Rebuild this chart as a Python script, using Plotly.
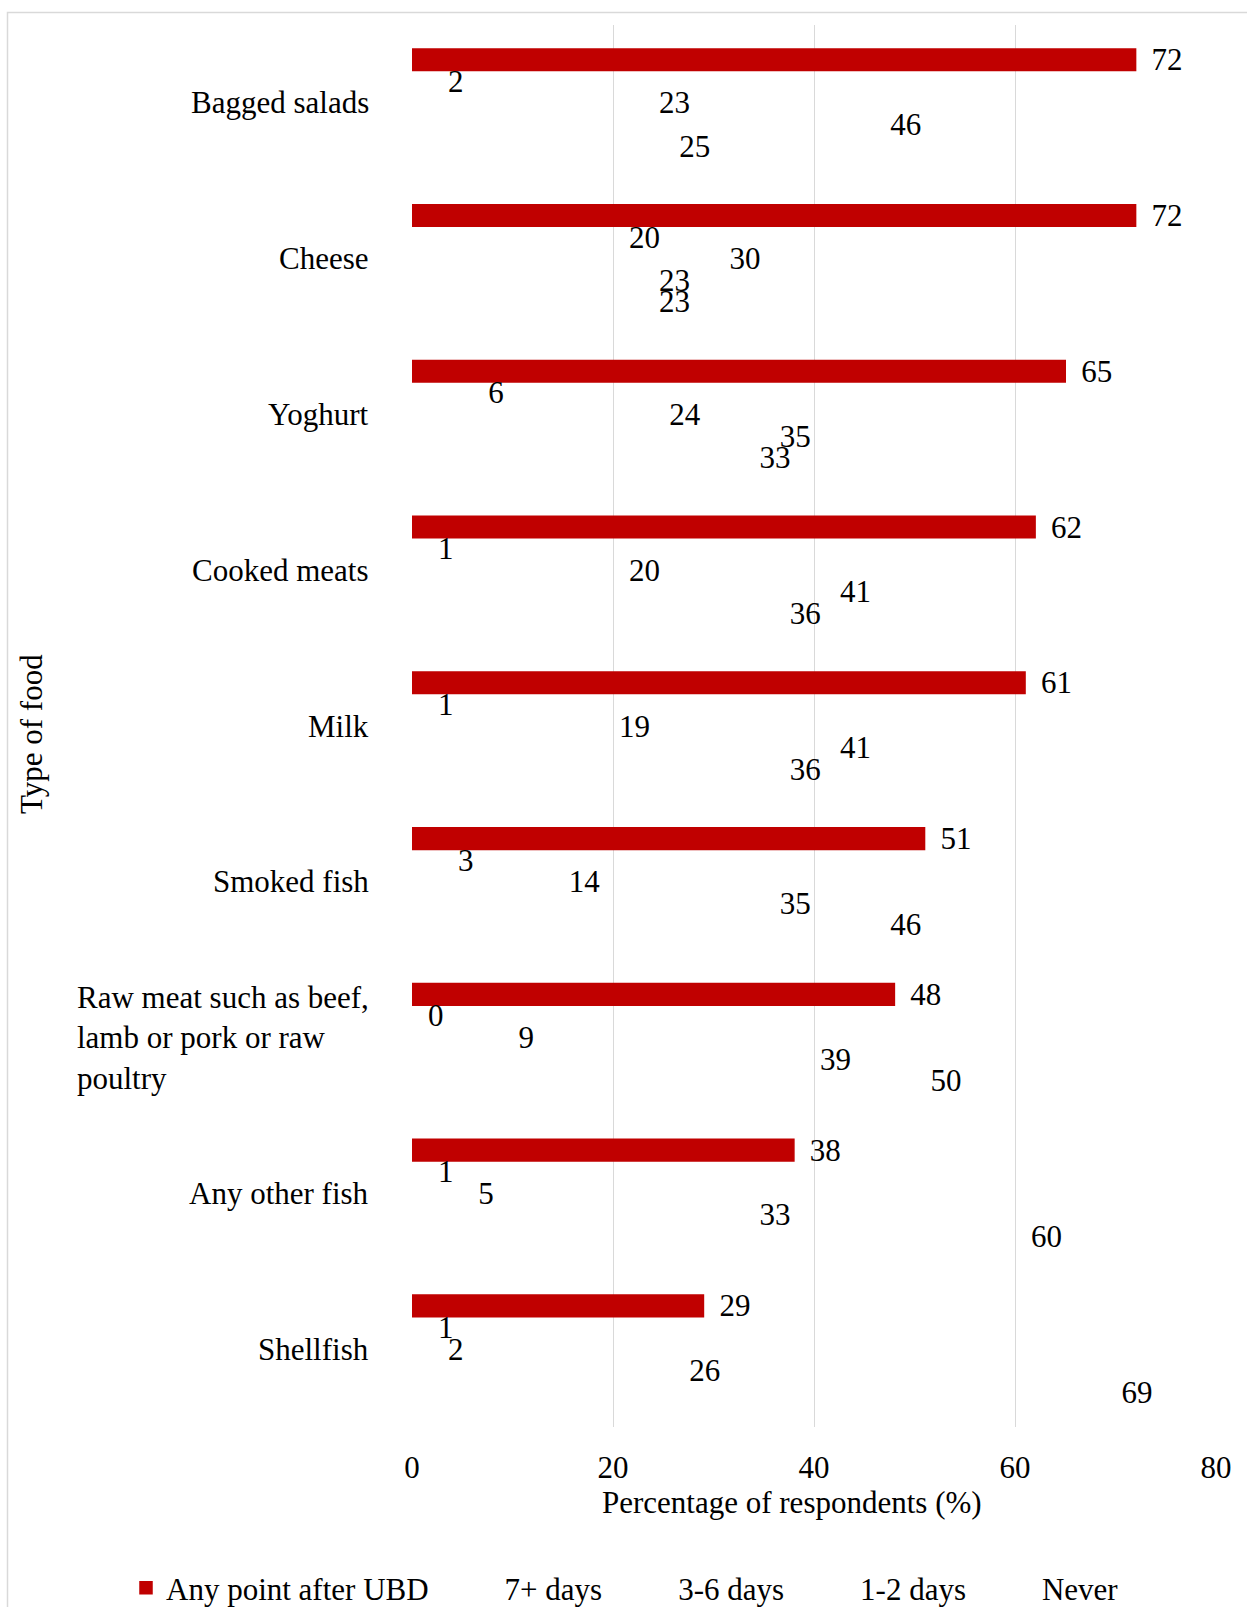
import plotly.graph_objects as go

# ---- data ----
category_labels = [
    "Bagged salads",
    "Cheese",
    "Yoghurt",
    "Cooked meats",
    "Milk",
    "Smoked fish",
    "Raw meat such as beef,<br>lamb or pork or raw<br>poultry",
    "Any other fish",
    "Shellfish",
]
any_point_after_ubd = [72, 72, 65, 62, 61, 51, 48, 38, 29]
days_7_plus = [2, 20, 6, 1, 1, 3, 0, 1, 1]
days_3_6 = [23, 30, 24, 20, 19, 14, 9, 5, 2]
days_1_2 = [46, 23, 35, 41, 41, 35, 39, 33, 26]
never = [25, 23, 33, 36, 36, 46, 50, 60, 69]
series_names = ["Any point after UBD", "7+ days", "3-6 days", "1-2 days", "Never"]
x_tick_values = [0, 20, 40, 60, 80]

series_values = [any_point_after_ubd, days_7_plus, days_3_6, days_1_2, never]
series_colors = ["#C00000", "rgba(0,0,0,0)", "rgba(0,0,0,0)", "rgba(0,0,0,0)", "rgba(0,0,0,0)"]

FONT = "Liberation Serif"
FS = 31
W, H = 1247, 1607
L, R, T, B = 412, 31, 25, 180
PW, PH = W - L - R, H - T - B

def px_to_paper_x(px):
    return (px - L) / PW

def px_to_paper_y(py):
    return (H - B - py) / PH

fig = go.Figure()
for name, vals, col in zip(series_names, series_values, series_colors):
    fig.add_trace(go.Bar(
        name=name + "\u00a0\u00a0\u00a0\u00a0",
        y=category_labels,
        x=vals,
        orientation="h",
        marker=dict(color=col, line=dict(width=1.5, color=col)),
        text=vals,
        texttemplate="\u2004\u200a%{x}",
        textposition="outside",
        constraintext="none",
        cliponaxis=False,
        textfont=dict(family=FONT, size=FS, color="#000000"),
    ))

annotations = []
for lab in category_labels:
    annotations.append(dict(
        x=0, xref="paper", y=lab, yref="y",
        text=lab, showarrow=False, xanchor="right", yanchor="middle",
        align="left", xshift=-41,
        font=dict(family=FONT, size=FS, color="#000000"),
    ))
annotations.append(dict(
    x=px_to_paper_x(31), xref="paper", y=px_to_paper_y(734), yref="paper",
    text="Type of food", textangle=-90, showarrow=False,
    xanchor="center", yanchor="middle",
    font=dict(family=FONT, size=FS, color="#000000"),
))
annotations.append(dict(
    x=px_to_paper_x(792), xref="paper", y=px_to_paper_y(1502), yref="paper",
    text="Percentage of respondents (%)", showarrow=False,
    xanchor="center", yanchor="middle",
    font=dict(family=FONT, size=FS, color="#000000"),
))

fig.update_layout(
    width=W, height=H,
    margin=dict(l=L, r=R, t=T, b=B, autoexpand=False),
    paper_bgcolor="white", plot_bgcolor="white",
    barmode="group", bargap=0.3067, bargroupgap=0,
    font=dict(family=FONT, size=FS, color="#000000"),
    showlegend=True,
    legend=dict(
        orientation="h",
        x=px_to_paper_x(126), xanchor="left",
        y=px_to_paper_y(1588), yanchor="middle",
        font=dict(family=FONT, size=FS, color="#000000"),
        bgcolor="rgba(0,0,0,0)",
        traceorder="normal",
    ),
    xaxis=dict(
        range=[0, 80], tickvals=x_tick_values, ticktext=[str(v) for v in x_tick_values],
        showgrid=True, gridcolor="#D9D9D9", gridwidth=1.3,
        zeroline=False, showline=False, ticks="",
        tickfont=dict(family=FONT, size=FS, color="#000000"),
        ticklabelstandoff=19,
        fixedrange=True,
    ),
    yaxis=dict(
        type="category", categoryorder="array", categoryarray=category_labels,
        autorange="reversed", showticklabels=False, showgrid=False,
        zeroline=False, showline=False, ticks="",
    ),
    annotations=annotations,
    shapes=[dict(
        type="rect", xref="paper", yref="paper",
        x0=px_to_paper_x(7.5), x1=px_to_paper_x(1260),
        y0=px_to_paper_y(1640), y1=px_to_paper_y(12.5),
        line=dict(color="#D9D9D9", width=1.5), fillcolor="rgba(0,0,0,0)", layer="below",
    )],
)

fig.write_html("out.html")
